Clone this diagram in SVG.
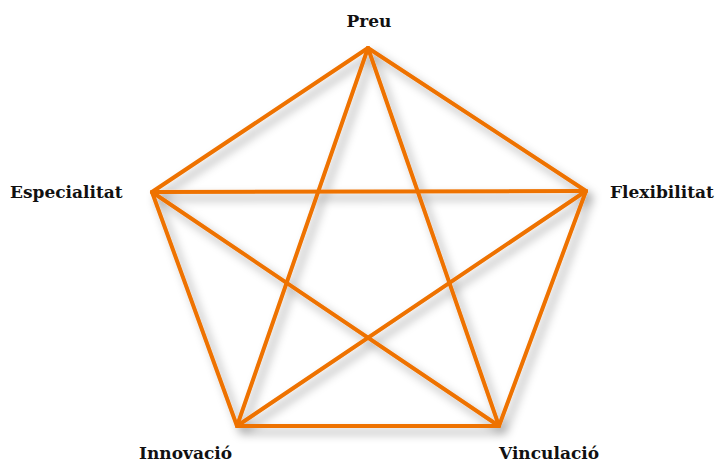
<svg xmlns="http://www.w3.org/2000/svg" width="720" height="463" viewBox="0 0 720 463">
<style>
.lbl{font-family:"DejaVu Serif","Liberation Serif",serif;font-weight:bold;font-size:17px;fill:#111}
.edge{stroke:#EE7203;stroke-width:4;fill:none;stroke-linejoin:miter;stroke-linecap:round}
</style>
<defs>
<filter id="sh" x="-20%" y="-20%" width="140%" height="140%">
<feGaussianBlur in="SourceAlpha" stdDeviation="5"/>
<feOffset dx="5" dy="6" result="b"/>
<feFlood flood-color="#000" flood-opacity="0.35"/>
<feComposite in2="b" operator="in"/>
<feMerge><feMergeNode/><feMergeNode in="SourceGraphic"/></feMerge>
</filter>
</defs>
<rect width="720" height="463" fill="#fff"/>
<g id="connectors" filter="url(#sh)">
<line class="edge" x1="368" y1="48" x2="586" y2="191"/>
<line class="edge" x1="586" y1="191" x2="499" y2="426"/>
<line class="edge" x1="499" y1="426" x2="237" y2="426"/>
<line class="edge" x1="237" y1="426" x2="152" y2="192"/>
<line class="edge" x1="152" y1="192" x2="368" y2="48"/>
<line class="edge" x1="368" y1="48" x2="499" y2="426"/>
<line class="edge" x1="368" y1="48" x2="237" y2="426"/>
<line class="edge" x1="152" y1="192" x2="586" y2="191"/>
<line class="edge" x1="152" y1="192" x2="499" y2="426"/>
<line class="edge" x1="586" y1="191" x2="237" y2="426"/>
</g>
<g id="preu"><text class="lbl" x="369" y="27" text-anchor="middle">Preu</text></g>
<g id="especialitat"><text class="lbl" x="10" y="198">Especialitat</text></g>
<g id="flexibilitat"><text class="lbl" x="610" y="198">Flexibilitat</text></g>
<g id="innovacio"><text class="lbl" x="139" y="459">Innovació</text></g>
<g id="vinculacio"><text class="lbl" x="499" y="459">Vinculació</text></g>
</svg>
